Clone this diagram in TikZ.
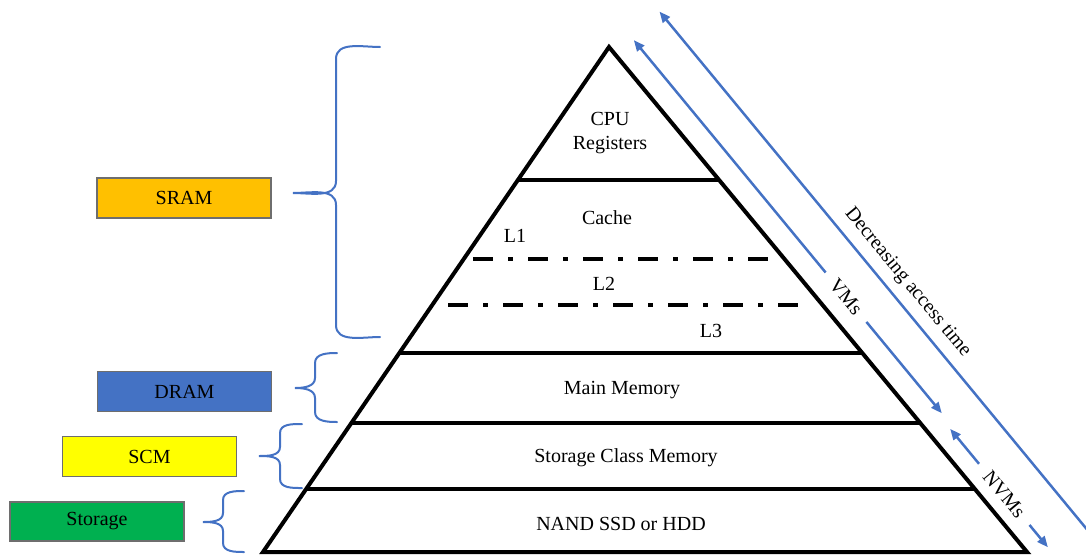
\documentclass[tikz,border=0pt]{standalone}
\usepackage{fontspec}
\setmainfont{Liberation Serif}
\usetikzlibrary{arrows.meta,calc}

\definecolor{accent}{HTML}{4472C4}
\definecolor{sramfill}{HTML}{FFC000}
\definecolor{dramfill}{HTML}{4472C4}
\definecolor{scmfill}{HTML}{FFFF00}
\definecolor{storfill}{HTML}{00B050}
\definecolor{boxedge}{HTML}{6E6E6E}

% curly brace opening to the right: ends at x=#1, spine at x=#2, tip at x=#3,
% top end y=#4, tip y=#5, bottom end y=#6, curl size #7
\newcommand\sidebrace[7]{%
  \draw[bracepen] (#1,#4) to[out=180,in=90] (#2,#4+#7) -- (#2,#5-#7)
    to[out=-90,in=0] (#3,#5) to[out=0,in=90] (#2,#5+#7) -- (#2,#6-#7)
    to[out=-90,in=180] (#1,#6);}

\begin{document}
\begin{tikzpicture}[x=1pt,y=-1pt,
  lbl/.style={font=\fontsize{20}{24}\selectfont, inner sep=0pt},
  pyr/.style={line width=4pt, line join=miter},
  tier/.style={line width=3.5pt},
  sublevel/.style={line width=4.5pt, dash pattern=on 20pt off 15pt on 5pt off 15pt},
  bracepen/.style={draw=accent, line width=2pt, line cap=round},
  arr/.style={draw=accent, line width=2.5pt, -{Triangle[length=11pt,width=9pt]}},
  memkind/.style={lbl, draw=boxedge, line width=1.2pt, minimum width=174pt,
                  minimum height=40pt, text=black}]
\useasboundingbox (0,0) rectangle (1086,554);

% pyramid outline and tiers
\coordinate (apex) at (609,47);
\coordinate (bl) at (263,552);
\coordinate (br) at (1027,552);
\draw[pyr] (apex) -- (bl) -- (br) -- cycle;
\foreach \t in {0.2634,0.6059,0.7446,0.8752}
  \draw[tier] ($(apex)!\t!(bl)$) -- ($(apex)!\t!(br)$);

% cache sub-levels
\coordinate (l12a) at (473,259); \coordinate (l12b) at (778,259);
\coordinate (l23a) at (448,305); \coordinate (l23b) at (803,305);
\draw[sublevel] (l12a) -- (l12b);
\draw[sublevel] (l23a) -- (l23b);

% tier labels
\node[lbl, anchor=base] (cpu) at (610,125) {CPU};
\node[lbl, anchor=base] (reg) at (610,149) {Registers};
\node[lbl, anchor=base] (cache) at (607,224) {Cache};
\node[lbl, anchor=base] (lone) at (515,242) {L1};
\node[lbl, anchor=base] (ltwo) at (604,290) {L2};
\node[lbl, anchor=base] (lthree) at (711,337) {L3};
\node[lbl, anchor=base] (mainmem) at (622,394) {Main Memory};
\node[lbl, anchor=base] (scmtier) at (626,462) {Storage Class Memory};
\node[lbl, anchor=base] (nand) at (621,530) {NAND SSD or HDD};

% technology boxes
\node[memkind, fill=sramfill] (sram) at (184,198) {SRAM};
\node[memkind, fill=dramfill] (dram) at (184.5,391.5) {DRAM};
\node[memkind, fill=scmfill] (scm) at (149.5,456.5) {SCM};
\node[memkind, fill=storfill, minimum height=39pt] (storage) at (97,521.5) {Storage};

% braces
\sidebrace{380}{336}{293}{47}{193}{337}{12}
\sidebrace{337}{315}{295}{353}{388}{422}{10}
\sidebrace{302}{280}{259}{424}{456}{488}{9}
\sidebrace{244}{223}{203}{491}{522}{552}{9}

% arrows parallel to the right flank (u along the flank, v away from it)
\begin{scope}[shift={(609,47)}, x={(0.6366pt,-0.7712pt)}, y={(0.7712pt,0.6366pt)}]
  \coordinate (tTop) at (4.8,61.5);
  \coordinate (tEnd) at (690,61.5);
  \draw[arr] (tEnd) -- (tTop);
  \node[lbl, rotate=-50.46] (dec) at (372,80) {Decreasing access time};

  \coordinate (vTop) at (10.5,23.5);
  \coordinate (vA) at (311.8,23.5);
  \coordinate (vB) at (375.9,23.5);
  \coordinate (vBot) at (494.3,23.5);
  \node[lbl, rotate=-50.46] (vms) at (343.8,23.5) {VMs};
  \draw[arr] (vA) -- (vTop);
  \draw[arr] (vB) -- (vBot);

  \coordinate (nTop) at (511.7,20);
  \coordinate (nA) at (557,20);
  \coordinate (nB) at (636.3,20);
  \coordinate (nBot) at (665.2,20);
  \node[lbl, rotate=-50.46] (nvms) at (596.6,20) {NVMs};
  \draw[arr] (nA) -- (nTop);
  \draw[arr] (nB) -- (nBot);
\end{scope}
\end{tikzpicture}
\end{document}
